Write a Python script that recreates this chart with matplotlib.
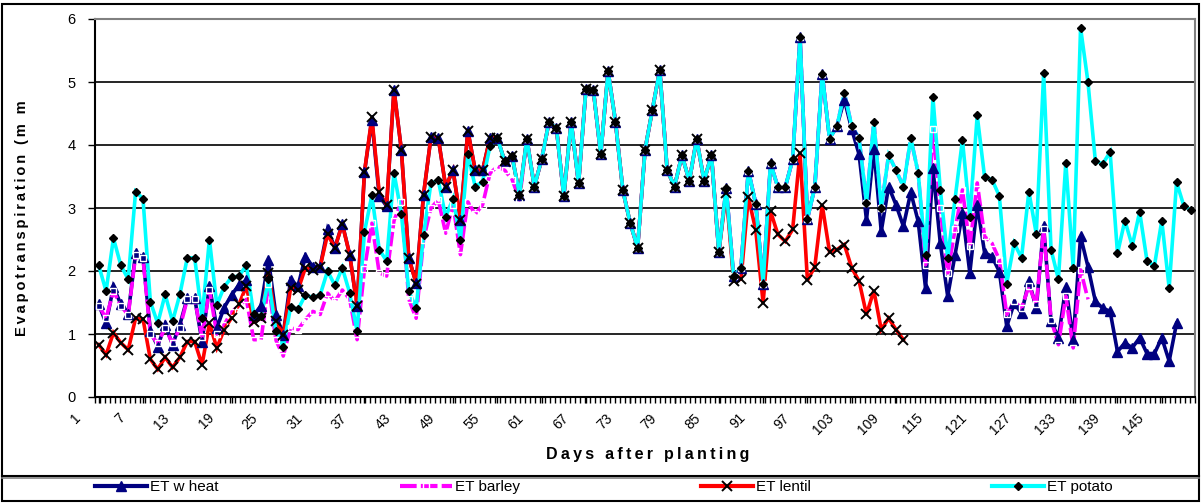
import numpy as np
import matplotlib.pyplot as plt
from matplotlib.lines import Line2D
from matplotlib.patches import Rectangle
from matplotlib.transforms import ScaledTranslation

plt.rcParams['font.family'] = ['Liberation Sans', 'DejaVu Sans']

# Evapotranspiration (mm) per day after planting
et_potato = [2.09, 1.68, 2.52, 2.09, 1.87, 3.26, 3.15, 1.51, 1.17, 1.63,
             1.20, 1.63, 2.21, 2.21, 1.26, 2.50, 1.46, 1.75, 1.90, 1.92,
             2.09, 1.31, 1.28, 1.87, 1.05, 0.80, 1.43, 1.39, 1.62, 1.58,
             1.62, 2.00, 1.77, 2.05, 1.65, 1.05, 2.62, 3.20, 2.34, 2.16,
             3.56, 2.91, 1.68, 1.41, 2.57, 3.39, 3.44, 2.86, 3.15, 2.50,
             3.85, 3.34, 3.42, 3.98, 4.11, 3.74, 3.82, 3.21, 4.10, 3.34,
             3.77, 4.37, 4.27, 3.19, 4.37, 3.39, 4.89, 4.88, 3.85, 5.17,
             4.37, 3.28, 2.76, 2.37, 3.92, 4.56, 5.19, 3.60, 3.34, 3.84,
             3.43, 4.10, 3.43, 3.84, 2.30, 3.32, 1.92, 2.05, 3.59, 3.07,
             1.80, 3.71, 3.33, 3.33, 3.77, 5.71, 2.83, 3.33, 5.13, 4.10,
             4.30, 4.83, 4.30, 4.11, 3.08, 4.37, 3.00, 3.84, 3.60, 3.34,
             4.11, 3.56, 2.26, 4.76, 3.29, 2.21, 3.15, 4.08, 2.86, 4.47,
             3.49, 3.45, 3.19, 1.80, 2.44, 2.21, 3.26, 2.59, 5.14, 2.34,
             1.87, 3.72, 2.05, 5.86, 5.00, 3.75, 3.70, 3.89, 2.28, 2.80,
             2.40, 2.94, 2.16, 2.08, 2.80, 1.73, 3.41, 3.03, 2.97]

et_wheat = [1.47, 1.17, 1.75, 1.47, 1.32, 2.28, 2.22, 1.05, 0.80, 1.15,
            0.83, 1.15, 1.57, 1.57, 0.88, 1.76, 1.10, 1.42, 1.62, 1.78,
            1.85, 1.30, 1.45, 2.18, 1.30, 0.99, 1.86, 1.76, 2.23, 2.07,
            2.07, 2.66, 2.37, 2.75, 2.26, 1.44, 3.57, 4.40, 3.19, 3.03,
            4.88, 3.92, 2.21, 1.81, 3.21, 4.12, 4.11, 3.34, 3.60, 2.81,
            4.23, 3.60, 3.60, 4.11, 4.11, 3.74, 3.82, 3.21, 4.10, 3.34,
            3.77, 4.37, 4.27, 3.19, 4.37, 3.39, 4.89, 4.88, 3.85, 5.17,
            4.37, 3.28, 2.76, 2.37, 3.92, 4.56, 5.19, 3.60, 3.34, 3.84,
            3.43, 4.10, 3.43, 3.84, 2.30, 3.32, 1.92, 2.05, 3.59, 3.07,
            1.80, 3.71, 3.33, 3.33, 3.77, 5.71, 2.83, 3.33, 5.13, 4.10,
            4.30, 4.72, 4.25, 3.85, 2.81, 3.94, 2.63, 3.34, 3.05, 2.71,
            3.25, 2.79, 1.73, 3.63, 2.44, 1.60, 2.26, 2.92, 1.97, 3.05,
            2.29, 2.23, 1.99, 1.12, 1.49, 1.33, 1.84, 1.41, 2.71, 1.20,
            0.94, 1.75, 0.91, 2.55, 2.07, 1.52, 1.41, 1.36, 0.72, 0.86,
            0.78, 0.94, 0.69, 0.69, 0.94, 0.57, 1.17]

et_barley = [1.45, 1.25, 1.68, 1.45, 1.30, 2.25, 2.20, 1.00, 0.85, 1.10,
             0.85, 1.10, 1.55, 1.55, 0.95, 1.70, 1.00, 1.15, 1.35, 1.45,
             1.55, 0.91, 0.91, 1.80, 0.90, 0.65, 1.10, 1.07, 1.23, 1.36,
             1.31, 1.65, 1.52, 1.70, 1.55, 0.91, 2.03, 2.76, 1.97, 1.92,
             2.80, 3.10, 1.55, 1.25, 2.50, 3.00, 3.13, 2.60, 3.05, 2.26,
             3.10, 2.90, 3.05, 3.55, 3.66, 3.60, 3.45, 3.13, 4.10, 3.34,
             3.77, 4.37, 4.27, 3.19, 4.37, 3.39, 4.89, 4.88, 3.85, 5.17,
             4.37, 3.28, 2.76, 2.37, 3.92, 4.56, 5.19, 3.60, 3.34, 3.84,
             3.43, 4.10, 3.43, 3.84, 2.30, 3.32, 1.92, 2.05, 3.59, 3.07,
             1.80, 3.71, 3.33, 3.33, 3.77, 5.71, 2.83, 3.33, 5.13, 4.10,
             4.30, 4.83, 4.30, 4.11, 3.08, 4.37, 3.00, 3.84, 3.60, 3.34,
             4.11, 3.56, 2.10, 4.25, 3.00, 1.97, 2.66, 3.29, 2.39, 3.40,
             2.55, 2.44, 2.18, 1.31, 1.52, 1.41, 1.76, 1.47, 2.66, 1.23,
             0.83, 1.60, 0.78, 2.02, 1.55]

et_lentil = [0.83, 0.67, 1.02, 0.86, 0.75, 1.25, 1.24, 0.60, 0.44, 0.63,
             0.47, 0.63, 0.88, 0.88, 0.51, 1.17, 0.78, 1.07, 1.26, 1.47,
             1.76, 1.19, 1.25, 1.97, 1.20, 0.99, 1.73, 1.70, 2.05, 2.02,
             2.07, 2.58, 2.37, 2.74, 2.26, 1.44, 3.57, 4.44, 3.25, 3.05,
             4.88, 3.92, 2.21, 1.80, 3.21, 4.12, 4.11, 3.34, 3.60, 2.81,
             4.23, 3.60, 3.60, 4.11, 4.11, 3.74, 3.82, 3.21, 4.10, 3.34,
             3.77, 4.37, 4.27, 3.19, 4.37, 3.39, 4.89, 4.88, 3.85, 5.17,
             4.37, 3.28, 2.76, 2.37, 3.92, 4.56, 5.19, 3.60, 3.34, 3.84,
             3.43, 4.10, 3.43, 3.84, 2.30, 3.24, 1.84, 1.87, 3.17, 2.65,
             1.49, 2.95, 2.58, 2.47, 2.66, 3.88, 1.85, 2.07, 3.05, 2.30,
             2.34, 2.42, 2.05, 1.84, 1.31, 1.69, 1.07, 1.25, 1.07, 0.91]

series_names = ['ET w heat', 'ET barley', 'ET lentil', 'ET potato']
tick_days = list(range(1, 150, 6))

W, H = 1204, 504
fig = plt.figure(figsize=(W / 100, H / 100), dpi=100)
ax = fig.add_axes([95 / W, 107 / H, 1100 / W, 378 / H])

styles = [
    dict(color='#000080', ls='-', marker='^', mfc='#000080', mec='#000080', ms=6.5, mew=1),
    dict(color='#FF00FF', ls=(0, (4, 1)), marker='s', mfc='none', mec='white', ms=5, mew=1),
    dict(color='#FF0000', ls='-', marker='x', mfc='black', mec='black', ms=7, mew=1.4),
    dict(color='#00FFFF', ls='-', marker='D', mfc='black', mec='black', ms=4.5, mew=1),
]
data = [et_wheat, et_barley, et_lentil, et_potato]

handles = []
for i, (vals, st) in enumerate(zip(data, styles)):
    x = np.arange(1, len(vals) + 1)
    ax.plot(x, vals, color=st['color'], ls=st['ls'], lw=2.6, zorder=3 + i,
            solid_joinstyle='miter')
    ax.plot(x, vals, ls='none', marker=st['marker'], mfc=st['mfc'], mec=st['mec'],
            ms=st['ms'], mew=st['mew'], zorder=10 + i)
    handles.append(Line2D([], [], color=st['color'], ls=st['ls'], lw=3,
                          marker=st['marker'], mfc=st['mfc'], mec=st['mec'],
                          ms=st['ms'], mew=st['mew']))

ax.set_xlim(0.5, 149.5)
ax.set_ylim(0, 6)
ax.set_yticks(range(7))
ax.grid(axis='y', color='black', lw=1.2)
ax.yaxis.get_gridlines()[-1].set_color('#808080')
ax.set_axisbelow(True)

ax.set_xticks(tick_days)
ax.set_xticklabels([str(d) for d in tick_days], fontsize=10)
ax.set_xticks(np.linspace(0.5, 149.5, 221), minor=True)
ax.tick_params(axis='x', which='both', direction='out', length=4, width=1, pad=6)
ax.tick_params(axis='y', direction='out', length=5, width=1, pad=9, labelsize=10.5)
plt.setp(ax.get_xticklabels(), rotation=45, ha='right', va='top', rotation_mode='anchor')
shift = ScaledTranslation(-0.25, 0, fig.dpi_scale_trans)
for lab in ax.get_xticklabels():
    lab.set_transform(lab.get_transform() + shift)

for side in ['left', 'bottom']:
    ax.spines[side].set_color('black')
    ax.spines[side].set_linewidth(1.5)
for side in ['top', 'right']:
    ax.spines[side].set_color('#808080')
    ax.spines[side].set_linewidth(1.5)

ylabel = '\u2009'.join('Evapotranspiration (m m')
fig.text(22 / W, 1 - 218 / H, ylabel, rotation=90, fontsize=10.5, fontweight='bold',
         ha='center', va='center')
xlabel = '\u2009'.join('Days after planting')
fig.text(648 / W, 1 - 455 / H, xlabel, fontsize=11.5, fontweight='bold',
         ha='center', va='center')

fig.legend(handles, series_names, loc='center', ncol=4, mode='expand',
           bbox_to_anchor=(95 / W, 1 - 500 / H, 1018 / W, 26 / H),
           frameon=False, handlelength=3.4, handletextpad=0.2, borderaxespad=0,
           borderpad=0, numpoints=1,
           prop={'family': ['Liberation Sans Narrow', 'Liberation Sans'], 'size': 11})

# chart frame and legend separator
fig.add_artist(Rectangle((2 / W, 3 / H), 1197 / W, 497 / H, fill=False,
                         ec='black', lw=1.5, transform=fig.transFigure))
fig.add_artist(Line2D([2 / W, 1199 / W], [1 - 475.5 / H] * 2, color='black', lw=1.5,
                      transform=fig.transFigure))
fig.add_artist(Line2D([2 / W, 1199 / W], [1 - 478 / H] * 2, color='#808080', lw=1.2,
                      transform=fig.transFigure))

fig.savefig('out.png', dpi=100)
